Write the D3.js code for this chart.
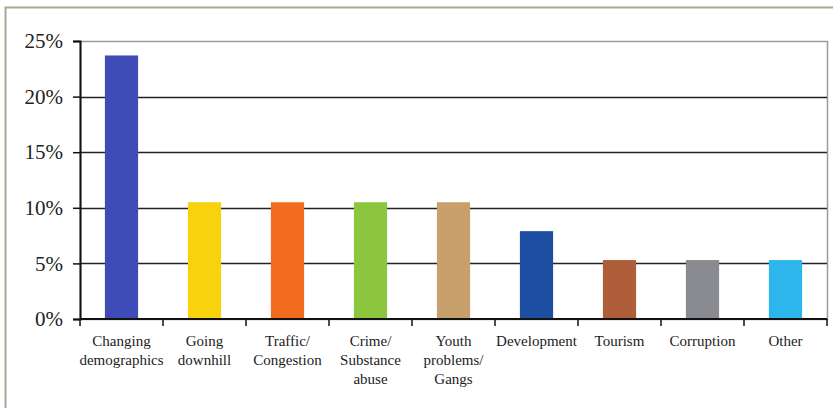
<!DOCTYPE html>
<html>
<head>
<meta charset="utf-8">
<script src="https://cdn.jsdelivr.net/npm/d3@7"></script>
<style>
  html, body { margin: 0; padding: 0; background: #fff; }
  svg { display: block; }
</style>
</head>
<body>
<svg id="chart" width="833" height="408"></svg>
<script>
// Share of responses by concern
const categories = [
  ["Changing", "demographics"],
  ["Going", "downhill"],
  ["Traffic/", "Congestion"],
  ["Crime/", "Substance", "abuse"],
  ["Youth", "problems/", "Gangs"],
  ["Development"],
  ["Tourism"],
  ["Corruption"],
  ["Other"]
];
const values = [23.7, 10.5, 10.5, 10.5, 10.5, 7.9, 5.3, 5.3, 5.3];
const barColors = ["#3F4CB8", "#F8D20C", "#F26C1E", "#8CC63E", "#C8A06C", "#1E4EA1", "#AE5F3A", "#898B91", "#2DB6EC"];
const yTicks = [0, 5, 10, 15, 20, 25];

const svg = d3.select("#chart");
const W = 833, H = 408;
const margin = { left: 80, right: 6, top: 41, bottom: 89 };
const innerW = W - margin.left - margin.right;
const innerH = H - margin.top - margin.bottom;
const font = "Liberation Serif, DejaVu Serif, serif";

// outer frame
svg.append("rect")
  .attr("x", 5.5).attr("y", 7.5)
  .attr("width", W + 10).attr("height", H + 10)
  .attr("fill", "none").attr("stroke", "#a7aa92").attr("stroke-width", 2);

const g = svg.append("g").attr("transform", `translate(${margin.left},${margin.top})`);

const x = d3.scaleBand().domain(d3.range(categories.length)).range([0, innerW]).paddingInner(0.6).paddingOuter(0.3);
const xTick = d3.scaleLinear().domain([0, categories.length]).range([0, innerW]);
const y = d3.scaleLinear().domain([0, 25]).range([innerH, 0]);

// plot area border
g.append("rect")
  .attr("x", 0.5).attr("y", 0.5)
  .attr("width", innerW).attr("height", innerH)
  .attr("fill", "none").attr("stroke", "#9a9a9a").attr("stroke-width", 1.5);

// gridlines
g.selectAll("line.grid").data(yTicks.filter(t => t > 0 && t < 25)).enter()
  .append("line").attr("class", "grid")
  .attr("x1", 0).attr("x2", innerW)
  .attr("y1", d => Math.round(y(d)) + 0.5).attr("y2", d => Math.round(y(d)) + 0.5)
  .attr("stroke", "#222").attr("stroke-width", 1.3);

// bars
g.selectAll("rect.bar").data(values).enter()
  .append("rect").attr("class", "bar")
  .attr("x", (d, i) => x(i)).attr("width", x.bandwidth())
  .attr("y", d => y(d)).attr("height", d => innerH - y(d))
  .attr("fill", (d, i) => barColors[i]);

// y axis
const yAxis = d3.axisLeft(y).tickValues(yTicks).tickSize(7).tickPadding(10).tickFormat(d => d + "%");
const ya = g.append("g").call(yAxis);
ya.attr("font-family", font);
ya.select(".domain").attr("stroke", "#111").attr("stroke-width", 2);
ya.selectAll(".tick line").attr("stroke", "#111").attr("stroke-width", 1.5);
ya.selectAll(".tick text").attr("font-family", font).attr("font-size", 21).attr("fill", "#222");

// x axis with ticks between categories
const xa = g.append("g").attr("transform", `translate(0,${innerH})`);
xa.append("line").attr("x1", 0).attr("x2", innerW).attr("y1", 0).attr("y2", 0)
  .attr("stroke", "#111").attr("stroke-width", 2);
xa.selectAll("line.tk").data(d3.range(categories.length + 1)).enter()
  .append("line").attr("class", "tk")
  .attr("x1", d => xTick(d)).attr("x2", d => xTick(d))
  .attr("y1", 0).attr("y2", 7)
  .attr("stroke", "#111").attr("stroke-width", 1.5);

// category labels
const lbl = xa.selectAll("text.cat").data(categories).enter()
  .append("text").attr("class", "cat")
  .attr("x", (d, i) => x(i) + x.bandwidth() / 2)
  .attr("y", 27)
  .attr("text-anchor", "middle")
  .style("font-family", font).attr("font-size", 15).attr("fill", "#222");
lbl.selectAll("tspan").data(d => d).enter()
  .append("tspan")
  .attr("x", function () { return d3.select(this.parentNode).attr("x"); })
  .attr("dy", (d, i) => i === 0 ? 0 : 19)
  .text(d => d);
</script>
</body>
</html>
